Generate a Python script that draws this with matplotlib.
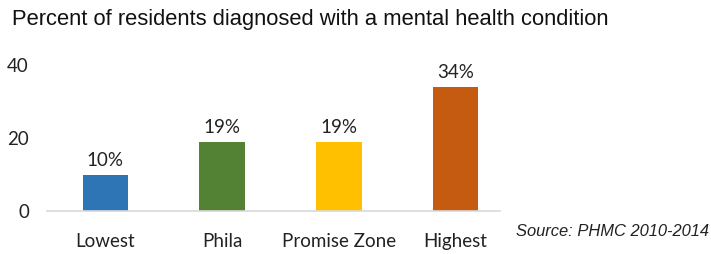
import matplotlib.pyplot as plt

categories = ['Lowest', 'Phila', 'Promise Zone', 'Highest']
values = [10, 19, 19, 34]
labels = ['10%', '19%', '19%', '34%']
colors = ['#2E75B6', '#548235', '#FFC000', '#C55A11']
yticks = [0, 20, 40]

fig = plt.figure(figsize=(7.11, 2.54), dpi=100)
ax = fig.add_axes([47 / 711, 43 / 254, 453 / 711, 146 / 254])

x = range(len(categories))
ax.bar(x, values, width=0.39, color=colors, zorder=2)
for i, v in enumerate(values):
    ax.text(i, v + 1.6, labels[i], ha='center', va='bottom', fontsize=13.5,
            family='Lato', color='#222222', clip_on=False)

ax.set_xlim(-0.5, 3.38)
ax.set_ylim(0, 40)
ax.set_yticks(yticks)
ax.set_xticks(list(x))
ax.set_xticklabels(categories)
for s in ['top', 'right', 'left']:
    ax.spines[s].set_visible(False)
ax.spines['bottom'].set_color('#D9D9D9')
ax.spines['bottom'].set_linewidth(1.2)
ax.tick_params(axis='both', length=0, labelsize=13.5, colors='#222222')
ax.tick_params(axis='y', pad=13)
ax.tick_params(axis='x', pad=16)
for t in ax.get_xticklabels() + ax.get_yticklabels():
    t.set_family('Lato')

fig.text(12 / 711, 1 - 20 / 254, 'Percent of residents diagnosed with a mental health condition',
         family='Liberation Sans', fontsize=15.8, va='center', ha='left', color='#111111')
fig.text(516 / 711, 1 - 231 / 254, 'Source: PHMC 2010-2014', family='Liberation Sans',
         style='italic', fontsize=11.9, va='center', ha='left', color='#222222')

fig.savefig('out.png', dpi=100)
